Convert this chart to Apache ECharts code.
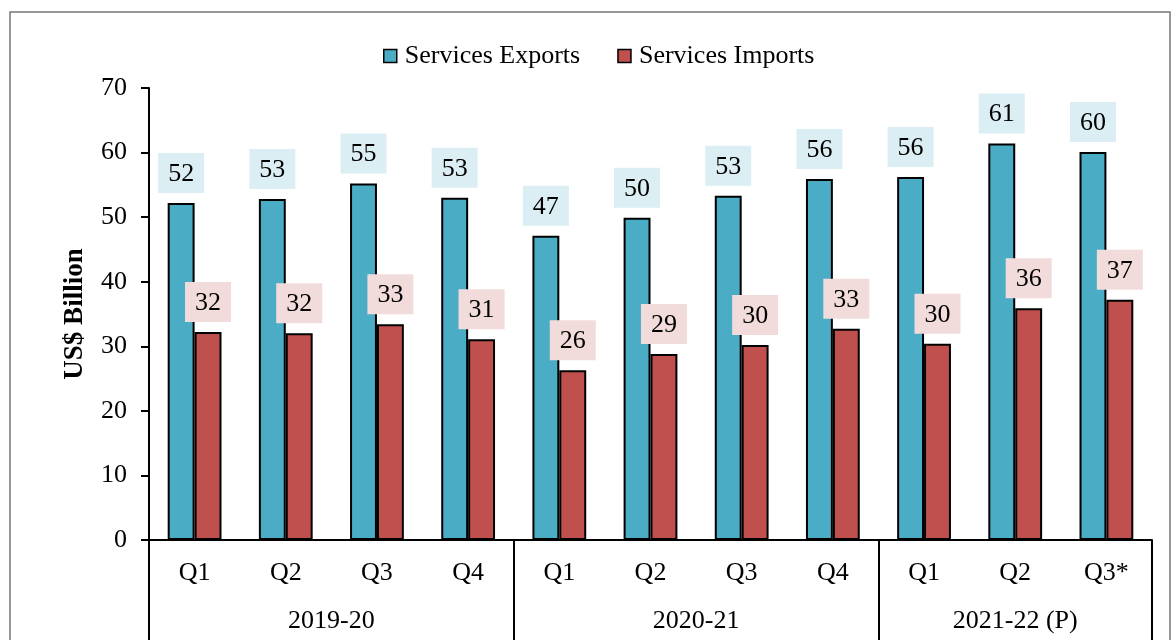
<!DOCTYPE html>
<html>
<head>
<meta charset="utf-8">
<script src="https://cdn.jsdelivr.net/npm/echarts@6/dist/echarts.min.js"></script>
<style>
  html, body { margin: 0; padding: 0; background: #fff; }
  #chart { width: 1173px; height: 640px; }
</style>
</head>
<body>
<div id="chart"></div>
<script>
// quarters shown on the first level of the x axis
const quarters = ['Q1', 'Q2', 'Q3', 'Q4', 'Q1', 'Q2', 'Q3', 'Q4', 'Q1', 'Q2', 'Q3*'];
// financial years on the second level, with how many quarters each covers
const years = ['2019-20', '2020-21', '2021-22 (P)'];
const yearSpans = [4, 4, 3];
// US$ billion
const exportsData = [52.2, 52.8, 55.2, 53.0, 47.1, 49.9, 53.3, 55.9, 56.2, 61.4, 60.1];
const importsData = [32.2, 32.0, 33.4, 31.1, 26.3, 28.8, 30.2, 32.7, 30.4, 35.9, 37.2];

const font = 'Liberation Serif, Times New Roman, serif';

// boundaries and midpoints of the year groups
const bounds = [0];
const mids = [];
yearSpans.forEach(function (s) {
    const start = bounds[bounds.length - 1];
    mids.push(start + s / 2);
    bounds.push(start + s);
});

const chart = echarts.init(document.getElementById('chart'));

const labelStyle = function (bg) {
    return {
        show: true,
        position: 'top',
        distance: 10,
        fontFamily: font,
        fontSize: 26,
        color: '#000',
        backgroundColor: bg,
        padding: [8, 10, 6, 10],
        formatter: function (p) { return Math.round(p.value); }
    };
};

chart.setOption({
    animation: false,
    textStyle: { fontFamily: font },
    graphic: [{
        type: 'rect',
        shape: { x: 10, y: 12, width: 1160, height: 650 },
        style: { fill: 'none', stroke: '#777', lineWidth: 1.5 },
        silent: true
    }],
    legend: {
        top: 38,
        left: 378,
        icon: 'rect',
        itemWidth: 13,
        itemHeight: 13,
        itemGap: 37,
        itemStyle: { borderColor: '#000', borderWidth: 1.5 },
        textStyle: { fontFamily: font, fontSize: 26, color: '#000', padding: [0, 0, 0, 3] },
        data: ['Services Exports', 'Services Imports']
    },
    grid: { left: 149, right: 21, top: 88, bottom: 100 },
    xAxis: [{
        type: 'category',
        data: quarters,
        axisLine: { lineStyle: { color: '#000', width: 2 } },
        axisTick: { length: 47, interval: 0, lineStyle: { color: '#000', width: 2 } },
        axisLabel: { interval: 0, margin: 20, fontFamily: font, fontSize: 26, color: '#000' }
    }, {
        type: 'value',
        min: 0,
        max: quarters.length,
        position: 'bottom',
        splitLine: { show: false },
        axisLine: { show: false },
        axisTick: { show: true, customValues: bounds, length: 100, lineStyle: { color: '#000', width: 2 } },
        axisLabel: {
            customValues: mids,
            margin: 68,
            fontFamily: font,
            fontSize: 26,
            color: '#000',
            formatter: function (v) { return years[mids.indexOf(v)]; }
        }
    }],
    yAxis: {
        type: 'value',
        min: 0,
        max: 70,
        interval: 10,
        name: 'US$ Billion',
        nameLocation: 'middle',
        nameGap: 60,
        nameTextStyle: { fontFamily: font, fontSize: 27, fontWeight: 'bold', color: '#000' },
        splitLine: { show: false },
        axisLine: { show: true, lineStyle: { color: '#000', width: 2 } },
        axisTick: { show: true, length: 8, lineStyle: { color: '#000', width: 2 } },
        axisLabel: { margin: 22, fontFamily: font, fontSize: 26, color: '#000' }
    },
    series: [{
        name: 'Services Exports',
        type: 'bar',
        data: exportsData,
        barGap: '0%',
        barCategoryGap: '41%',
        itemStyle: { color: '#4bacc6', borderColor: '#000', borderWidth: 2 },
        label: labelStyle('#dbeef4')
    }, {
        name: 'Services Imports',
        type: 'bar',
        data: importsData,
        itemStyle: { color: '#c0504d', borderColor: '#000', borderWidth: 2 },
        label: labelStyle('#f2dcdb')
    }]
});
</script>
</body>
</html>
